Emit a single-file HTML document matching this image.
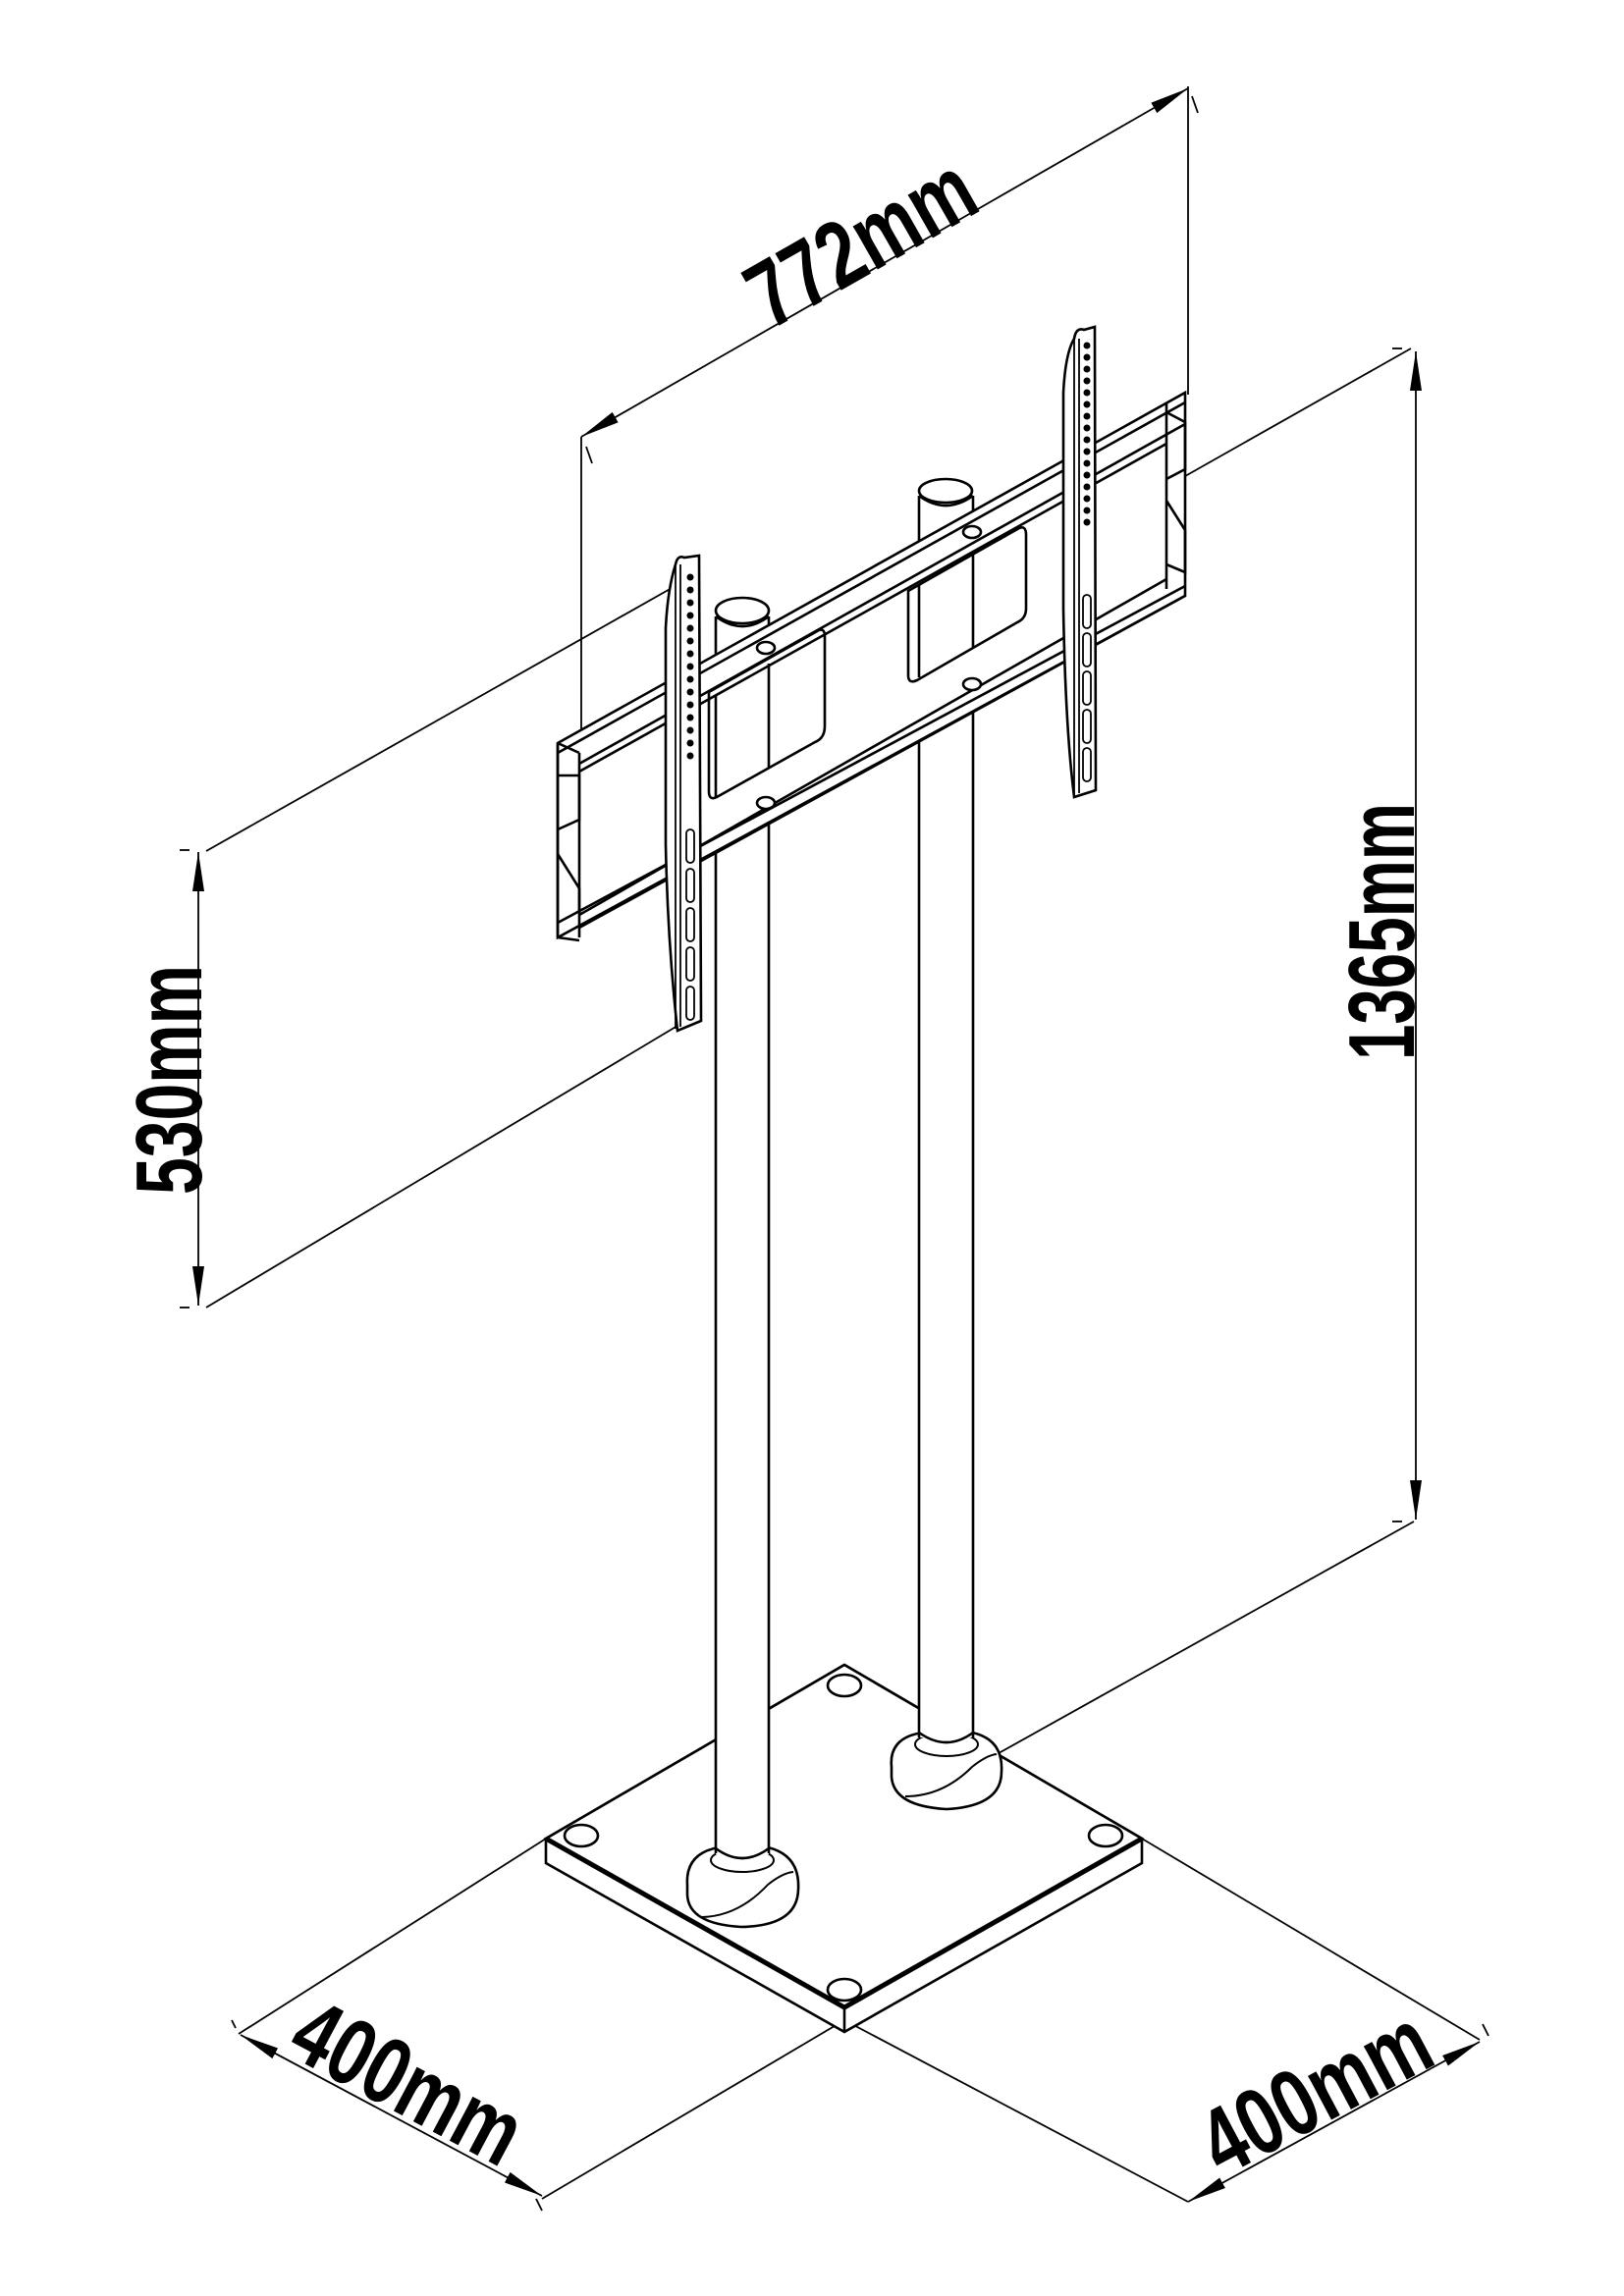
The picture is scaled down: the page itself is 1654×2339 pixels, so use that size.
<!DOCTYPE html>
<html><head><meta charset="utf-8"><style>
html,body{margin:0;padding:0;background:#fff}
svg{display:block}
text{font-family:"Liberation Sans",sans-serif;font-weight:bold;fill:#000}
</style></head><body>
<svg width="1654" height="2339" viewBox="0 0 1654 2339" xmlns="http://www.w3.org/2000/svg">
<defs>
<marker id="ar" viewBox="0 0 40 12" refX="40" refY="6" markerWidth="40" markerHeight="12" markerUnits="userSpaceOnUse" orient="auto-start-reverse">
<path d="M0,0 L40,6 L0,12 z" fill="#000"/>
</marker>
</defs>
<g stroke="#000" stroke-width="1.8" fill="none">
<line x1="592" y1="445" x2="1210" y2="90" marker-start="url(#ar)" marker-end="url(#ar)"/>
<line x1="592" y1="445" x2="592" y2="757"/>
<line x1="1210" y1="88" x2="1210" y2="402"/>
<line x1="597" y1="455" x2="603" y2="472"/>
<line x1="1214" y1="98" x2="1220" y2="115"/>
<line x1="1442" y1="358" x2="1442" y2="1548" marker-start="url(#ar)" marker-end="url(#ar)"/>
<line x1="1193" y1="493" x2="1437" y2="355"/>
<line x1="1010" y1="1790" x2="1440" y2="1550"/>
<line x1="1418" y1="355" x2="1428" y2="355"/>
<line x1="1418" y1="1550" x2="1428" y2="1550"/>
<line x1="202" y1="868" x2="202" y2="1330" marker-start="url(#ar)" marker-end="url(#ar)"/>
<line x1="210" y1="867" x2="693" y2="594"/>
<line x1="210" y1="1332" x2="690" y2="1045"/>
<line x1="183" y1="866" x2="193" y2="866"/>
<line x1="183" y1="1332" x2="193" y2="1332"/>
<line x1="245" y1="2073" x2="552" y2="2237" marker-start="url(#ar)" marker-end="url(#ar)"/>
<line x1="243" y1="2072" x2="556" y2="1873"/>
<line x1="860" y1="2058" x2="552" y2="2240"/>
<line x1="236" y1="2058" x2="240" y2="2066"/>
<line x1="546" y1="2240" x2="552" y2="2252"/>
<line x1="1210" y1="2243" x2="1507" y2="2080" marker-start="url(#ar)" marker-end="url(#ar)"/>
<line x1="860" y1="2058" x2="1210" y2="2243"/>
<line x1="1163" y1="1873" x2="1507" y2="2078"/>
<line x1="1510" y1="2062" x2="1516" y2="2074"/>
</g>

<g stroke="#000" fill="#fff" stroke-width="2.6">
<path d="M556,1873 L860,1696 L1163,1873 L1163,1898 L860,2070 L556,1898 Z"/>
<path d="M556,1873 L860,1696 L1163,1873 L860,2045 Z"/>
<line x1="860" y1="2045" x2="860" y2="2070"/>
<path d="M556,1873 L860,2045 L1163,1873" stroke-width="5" fill="none"/>
<ellipse cx="860" cy="1717" rx="17" ry="11"/>
<ellipse cx="592" cy="1870" rx="17" ry="11"/>
<ellipse cx="1126" cy="1870" rx="17" ry="11"/>
<ellipse cx="860" cy="2027" rx="17" ry="11"/>
</g>

<g stroke="#000" stroke-width="2.6" fill="#fff">
<path d="M908,1800 Q905,1770 940,1765 L990,1765 Q1022,1772 1020,1805 Q1020,1840 964,1843 Q910,1840 908,1810 Z"/>
<path d="M922,1830 Q960,1830 990,1800 Q1005,1788 1015,1787" fill="none" stroke-width="2"/>
<ellipse cx="964" cy="1777" rx="32" ry="12" fill="none" stroke-width="2"/>
<rect x="936" y="500" width="55" height="1270" fill="#fff" stroke="none"/>
<line x1="936" y1="505" x2="936" y2="1770"/>
<line x1="991" y1="505" x2="991" y2="1770"/>
<path d="M936,1765 Q964,1785 991,1765" fill="none"/>
<ellipse cx="963" cy="500" rx="27" ry="12"/>
<path d="M936,505 Q963,525 991,505" fill="none"/>
</g>

<g stroke="#000" stroke-width="2.6" fill="#fff">
<path d="M700,1920 Q698,1888 732,1882 L782,1882 Q815,1890 813,1925 Q812,1962 755,1963 Q701,1960 700,1930 Z"/>
<path d="M715,1953 Q752,1952 782,1920 Q797,1908 808,1907" fill="none" stroke-width="2"/>
<ellipse cx="756" cy="1895" rx="32" ry="12" fill="none" stroke-width="2"/>
<rect x="729" y="624" width="54" height="1265" fill="#fff" stroke="none"/>
<line x1="729" y1="628" x2="729" y2="1888"/>
<line x1="783" y1="628" x2="783" y2="1888"/>
<path d="M729,1883 Q756,1903 783,1883" fill="none"/>
<ellipse cx="756" cy="622" rx="27" ry="13"/>
<path d="M729,628 Q756,648 783,628" fill="none"/>
</g>

<g stroke="#000" stroke-width="2.6" fill="#fff">
<path d="M568,757 L1207,400 L1207,607 L568,955 Z"/>
<path d="M722,705 L834,642 Q840,640 840,648 L840,740 Q840,752 830,756 L730,812 Q722,816 722,806 Z" fill="#fff"/>
<path d="M925,602 L1038,538 Q1045,535 1045,545 L1045,620 Q1045,630 1036,634 L934,693 Q925,697 925,688 Z" fill="#fff"/>
<g fill="none">
<line x1="729" y1="708" x2="729" y2="812"/>
<line x1="783" y1="676" x2="783" y2="783"/>
<line x1="936" y1="596" x2="936" y2="690"/>
<line x1="991" y1="565" x2="991" y2="660"/>
<line x1="568" y1="767" x2="1207" y2="410"/>
<line x1="590" y1="778" x2="1207" y2="432"/>
<line x1="590" y1="786" x2="1188" y2="452"/>
<line x1="568" y1="940" x2="1207" y2="597"/>
<line x1="590" y1="932" x2="1188" y2="590"/>
<line x1="590" y1="945" x2="1207" y2="607"/>
<path d="M568,757 L568,955 M590,767 L590,955 M568,757 L590,767 M568,955 L590,958"/>
<path d="M568,790 L590,790 L590,835 L568,845 M568,870 L590,905 L590,930"/>
<path d="M1188,410 L1188,600 M1188,420 L1207,430 L1207,478 L1188,488 M1188,510 L1207,540 L1207,583 L1188,575"/>
</g>
<ellipse cx="780" cy="660" rx="9" ry="6"/>
<ellipse cx="780" cy="818" rx="9" ry="6"/>
<ellipse cx="990" cy="542" rx="9" ry="6"/>
<ellipse cx="990" cy="697" rx="9" ry="6"/>
</g>

<g stroke="#000" stroke-width="2.6" fill="#fff">
<path d="M688,575 Q690,565 697,568 L712,566 L714,1040 L690,1050 Q680,960 678,860 L678,640 Q680,600 688,575 Z"/>
<line x1="688" y1="575" x2="688" y2="1048" stroke-width="1.8"/>
<line x1="693" y1="575" x2="693" y2="1046" stroke-width="1.8"/>
</g>
<g fill="#000">
<circle cx="703" cy="588" r="3.5"/><circle cx="703" cy="601" r="3.5"/><circle cx="703" cy="614" r="3.5"/><circle cx="703" cy="627" r="3.5"/><circle cx="703" cy="640" r="3.5"/><circle cx="703" cy="653" r="3.5"/><circle cx="703" cy="666" r="3.5"/><circle cx="703" cy="679" r="3.5"/><circle cx="703" cy="692" r="3.5"/><circle cx="703" cy="705" r="3.5"/><circle cx="703" cy="718" r="3.5"/><circle cx="703" cy="731" r="3.5"/><circle cx="703" cy="744" r="3.5"/><circle cx="703" cy="757" r="3.5"/><circle cx="703" cy="770" r="3.5"/>
</g>
<g stroke="#000" stroke-width="1.8" fill="none">
<rect x="699" y="845" width="8" height="34" rx="4"/><rect x="699" y="885" width="8" height="34" rx="4"/><rect x="699" y="925" width="8" height="34" rx="4"/><rect x="699" y="965" width="8" height="34" rx="4"/><rect x="699" y="1005" width="8" height="34" rx="4"/>
</g>

<g stroke="#000" stroke-width="2.6" fill="#fff">
<path d="M1094,345 Q1096,333 1104,336 L1115,333 L1116,805 L1094,812 Q1085,740 1083,620 L1083,400 Q1085,360 1094,345 Z"/>
<line x1="1094" y1="345" x2="1094" y2="810" stroke-width="1.8"/>
<line x1="1099" y1="345" x2="1099" y2="808" stroke-width="1.8"/>
</g>
<g fill="#000">
<circle cx="1107" cy="352" r="3.5"/><circle cx="1107" cy="364" r="3.5"/><circle cx="1107" cy="376" r="3.5"/><circle cx="1107" cy="388" r="3.5"/><circle cx="1107" cy="400" r="3.5"/><circle cx="1107" cy="412" r="3.5"/><circle cx="1107" cy="424" r="3.5"/><circle cx="1107" cy="436" r="3.5"/><circle cx="1107" cy="448" r="3.5"/><circle cx="1107" cy="460" r="3.5"/><circle cx="1107" cy="472" r="3.5"/><circle cx="1107" cy="484" r="3.5"/><circle cx="1107" cy="496" r="3.5"/><circle cx="1107" cy="508" r="3.5"/><circle cx="1107" cy="520" r="3.5"/><circle cx="1107" cy="532" r="3.5"/>
</g>
<g stroke="#000" stroke-width="1.8" fill="none">
<rect x="1103" y="606" width="8" height="34" rx="4"/><rect x="1103" y="645" width="8" height="34" rx="4"/><rect x="1103" y="684" width="8" height="34" rx="4"/><rect x="1103" y="723" width="8" height="34" rx="4"/><rect x="1103" y="762" width="8" height="34" rx="4"/>
</g>

<text x="0" y="0" font-size="96" text-anchor="middle" transform="translate(893,275) rotate(-29.7)" textLength="250" lengthAdjust="spacingAndGlyphs">772mm</text>
<text x="0" y="0" font-size="96" text-anchor="middle" transform="translate(1440,949) rotate(-90)" textLength="262" lengthAdjust="spacingAndGlyphs">1365mm</text>
<text x="0" y="0" font-size="96" text-anchor="middle" transform="translate(205,1100) rotate(-90)" textLength="234" lengthAdjust="spacingAndGlyphs">530mm</text>
<text x="0" y="0" font-size="96" text-anchor="middle" transform="translate(400,2150) rotate(28)" textLength="250" lengthAdjust="spacingAndGlyphs">400mm</text>
<text x="0" y="0" font-size="96" text-anchor="middle" transform="translate(1355,2160) rotate(-28)" textLength="250" lengthAdjust="spacingAndGlyphs">400mm</text>
</svg>
</body></html>
